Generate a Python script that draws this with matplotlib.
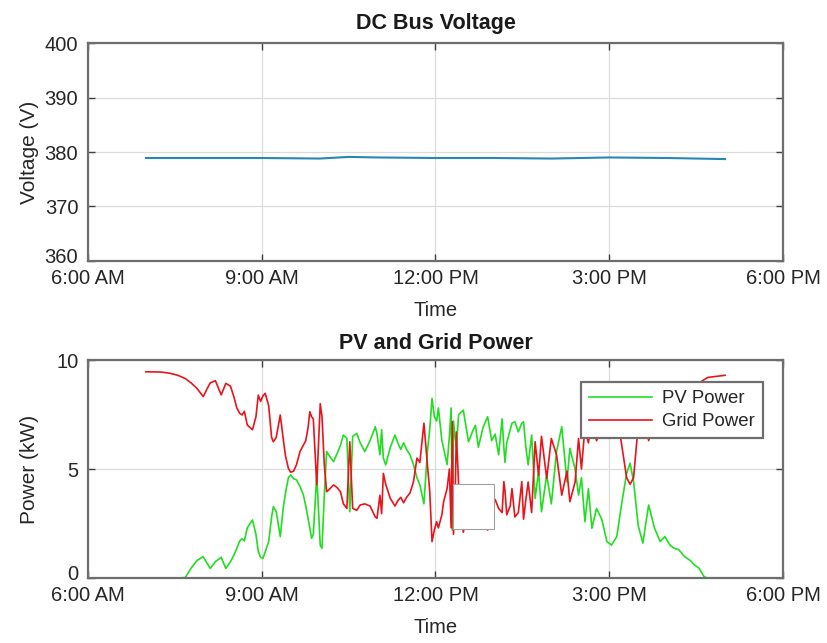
import numpy as np
import matplotlib
matplotlib.use("Agg")
import matplotlib.pyplot as plt
from matplotlib.patches import Rectangle
from matplotlib.transforms import ScaledTranslation

plt.rcParams['font.family'] = ['Liberation Sans', 'DejaVu Sans']

# time of day in hours
hours = [7.00, 7.25, 7.40, 7.55, 7.68, 7.78, 7.88, 7.99, 8.05, 8.11,
         8.20, 8.30, 8.38, 8.46, 8.52, 8.57, 8.62, 8.66, 8.70, 8.75,
         8.84, 8.90, 8.94, 8.98, 9.02, 9.06, 9.12, 9.17, 9.20, 9.25,
         9.32, 9.37, 9.41, 9.46, 9.50, 9.55, 9.60, 9.66, 9.72, 9.76,
         9.80, 9.83, 9.86, 9.89, 9.95, 10.01, 10.04, 10.08, 10.12, 10.18,
         10.24, 10.30, 10.36, 10.41, 10.47, 10.52, 10.57, 10.64, 10.70, 10.78,
         10.87, 10.96, 10.99, 11.04, 11.07, 11.10, 11.14, 11.22, 11.30, 11.35,
         11.40, 11.45, 11.50, 11.56, 11.62, 11.68, 11.73, 11.80, 11.86, 11.90,
         11.94, 11.98, 12.02, 12.05, 12.11, 12.14, 12.20, 12.24, 12.27, 12.29,
         12.31, 12.34, 12.36, 12.40, 12.48, 12.57, 12.65, 12.69, 12.74, 12.82,
         12.90, 12.97, 13.03, 13.09, 13.15, 13.18, 13.20, 13.23, 13.29, 13.32,
         13.37, 13.43, 13.49, 13.52, 13.56, 13.60, 13.66, 13.72, 13.78, 13.83,
         13.92, 14.00, 14.09, 14.18, 14.27, 14.32, 14.41, 14.47, 14.52, 14.58,
         14.64, 14.70, 14.78, 14.87, 14.96, 15.04, 15.13, 15.22, 15.30, 15.36,
         15.42, 15.50, 15.58, 15.68, 15.78, 15.88, 15.96, 16.05, 16.12, 16.20,
         16.30, 16.40, 16.47, 16.55, 16.64, 16.70, 16.85, 17.00]

pv_kw = [0.00, 0.00, 0.00, 0.00, 0.02, 0.45, 0.80, 0.98, 0.70, 0.44,
         0.75, 0.95, 0.44, 0.75, 1.05, 1.36, 1.70, 1.80, 1.70, 2.30,
         2.66, 2.00, 1.21, 0.95, 0.90, 1.20, 1.67, 2.80, 3.27, 3.05,
         1.90, 3.20, 3.90, 4.60, 4.73, 4.55, 4.50, 4.20, 3.80, 3.30,
         2.74, 2.30, 1.82, 2.00, 4.73, 1.50, 1.36, 3.80, 5.80, 5.55,
         5.34, 5.70, 6.10, 6.56, 6.40, 3.04, 6.50, 6.63, 6.20, 5.80,
         6.30, 6.94, 6.60, 5.65, 6.80, 5.50, 5.19, 6.00, 6.56, 6.20,
         5.90, 6.20, 5.90, 5.65, 5.20, 4.60, 4.27, 3.40, 5.80, 6.80,
         8.24, 7.40, 7.20, 7.80, 6.30, 5.95, 5.20, 6.50, 7.80, 2.20,
         7.20, 6.40, 6.00, 7.50, 7.70, 6.25, 6.80, 7.00, 6.00, 6.90,
         7.40, 6.30, 6.60, 5.65, 7.30, 6.00, 5.30, 6.20, 6.80, 7.10,
         7.17, 6.70, 7.10, 7.17, 6.00, 5.19, 6.56, 3.65, 4.90, 3.04,
         4.73, 3.40, 5.80, 6.94, 4.40, 5.95, 5.00, 3.80, 4.60, 2.58,
         4.10, 2.28, 3.19, 2.70, 1.67, 1.51, 1.90, 3.50, 4.80, 5.27,
         4.42, 2.40, 1.60, 3.35, 2.30, 1.67, 1.90, 1.50, 1.36, 1.30,
         0.98, 0.80, 0.60, 0.45, 0.05, 0.00, 0.00, 0.00]

grid_kw = [9.46, 9.45, 9.40, 9.30, 9.15, 8.95, 8.70, 8.32, 8.65, 8.95,
           9.05, 8.40, 8.93, 8.80, 8.30, 7.80, 7.55, 7.48, 7.65, 7.02,
           6.80, 7.40, 8.39, 8.10, 8.35, 8.47, 7.90, 6.45, 6.25, 6.45,
           7.48, 6.40, 5.60, 5.03, 4.85, 4.90, 5.20, 5.80, 6.10, 6.30,
           6.90, 7.63, 7.40, 7.30, 4.27, 8.00, 7.40, 5.20, 3.96, 4.10,
           4.27, 4.15, 3.95, 3.40, 3.19, 6.25, 3.20, 3.10, 3.35, 3.40,
           3.30, 2.80, 2.74, 3.80, 2.95, 4.80, 4.30, 3.65, 3.30, 3.55,
           3.70, 3.45, 3.70, 3.90, 4.42, 5.50, 5.30, 7.10, 5.20, 4.00,
           1.67, 2.20, 2.58, 2.30, 2.90, 3.50, 4.10, 5.00, 2.30, 7.17,
           2.00, 3.80, 6.70, 4.20, 2.10, 3.20, 2.70, 2.50, 3.40, 2.60,
           2.20, 3.20, 3.60, 3.19, 3.00, 4.42, 4.00, 2.90, 3.30, 4.10,
           2.80, 3.00, 4.42, 2.70, 3.60, 4.40, 3.00, 6.25, 4.70, 6.50,
           4.57, 6.40, 5.65, 3.80, 4.90, 3.50, 4.40, 6.40, 5.00, 6.90,
           6.20, 7.30, 6.30, 6.80, 7.80, 7.90, 7.60, 6.00, 4.60, 4.30,
           4.60, 7.00, 7.90, 6.30, 7.20, 7.80, 7.60, 7.95, 8.10, 8.20,
           8.50, 8.65, 8.80, 8.95, 9.10, 9.20, 9.25, 9.30]

# DC bus voltage, roughly hourly
v_hours = [7.0, 8.0, 9.0, 10.0, 10.5, 11.0, 12.0, 13.0, 14.0, 15.0, 16.0, 17.0]
v_bus = [378.9, 378.9, 378.9, 378.8, 379.1, 379.0, 378.9, 378.9, 378.8, 379.0, 378.9, 378.7]

xtick_hours = [6, 9, 12, 15, 18]
xtick_labels = ['6:00 AM', '9:00 AM', '12:00 PM', '3:00 PM', '6:00 PM']

frame_col = '#6e6e6e'
text_col = '#262626'


def style_axes(ax):
    ax.set_xlim(6, 18)
    ax.set_xticks(xtick_hours)
    ax.set_xticklabels(xtick_labels)
    ax.grid(True, color='#dcdcdc', linewidth=0.9)
    ax.set_axisbelow(True)
    for s in ax.spines.values():
        s.set_color(frame_col)
        s.set_linewidth(1.6)
    ax.tick_params(direction='in', length=5, width=1, color='#404040',
                   top=True, right=True, labelsize=14.5, labelcolor=text_col)
    ax.tick_params(axis='x', pad=6)
    ax.tick_params(axis='y', pad=7)
    ax.set_xlabel('Time', fontsize=14.5, color=text_col, labelpad=9)


def lift_bottom_label(ax):
    # nudge the lowest y label up so it clears the first time label
    lab = ax.get_yticklabels()[0]
    lab.set_transform(lab.get_transform() + ScaledTranslation(0, 4 / 72, fig.dpi_scale_trans))


fig = plt.figure(figsize=(8.27, 6.43), dpi=100)
ax1 = fig.add_axes([0.1064, 0.5941, 0.8404, 0.339])
ax2 = fig.add_axes([0.1064, 0.1011, 0.8404, 0.339])

# top: bus voltage
ax1.plot(v_hours, v_bus, color='#2a86b6', linewidth=1.5)
ax1.set_ylim(360, 400)
ax1.set_yticks([360, 370, 380, 390, 400])
style_axes(ax1)
ax1.set_ylabel('Voltage (V)', fontsize=15, color=text_col, labelpad=4)
ax1.set_title('DC Bus Voltage', fontsize=15.5, fontweight='bold', color='#1a1a1a', pad=10)

# bottom: PV vs grid power
ax2.plot(hours, pv_kw, color='#22dd22', linewidth=1.2, label='PV Power')
ax2.plot(hours, grid_kw, color='#e8141c', linewidth=1.2, label='Grid Power')
ax2.set_ylim(0, 10)
ax2.set_yticks([0, 5, 10])
style_axes(ax2)
ax2.set_ylabel('Power (kW)', fontsize=15, color=text_col, labelpad=12)
ax2.set_title('PV and Grid Power', fontsize=15.5, fontweight='bold', color='#1a1a1a', pad=8)

lift_bottom_label(ax1)
lift_bottom_label(ax2)

leg = ax2.legend(loc='upper right', bbox_to_anchor=(0.971, 0.899), borderaxespad=0,
                 fontsize=13.4, handlelength=3.4, fancybox=False, framealpha=1,
                 edgecolor=frame_col, borderpad=0.45, labelspacing=0.3, handletextpad=0.5)
leg.get_frame().set_linewidth(1.6)
for t in leg.get_texts():
    t.set_color(text_col)

# blank patch over the middle of the trace
ax2.add_patch(Rectangle((0.525, 0.225), 0.059, 0.206, transform=ax2.transAxes,
                        facecolor='white', edgecolor='#a0a0a0', linewidth=0.8, zorder=5))

fig.savefig('out.png', dpi=100)
